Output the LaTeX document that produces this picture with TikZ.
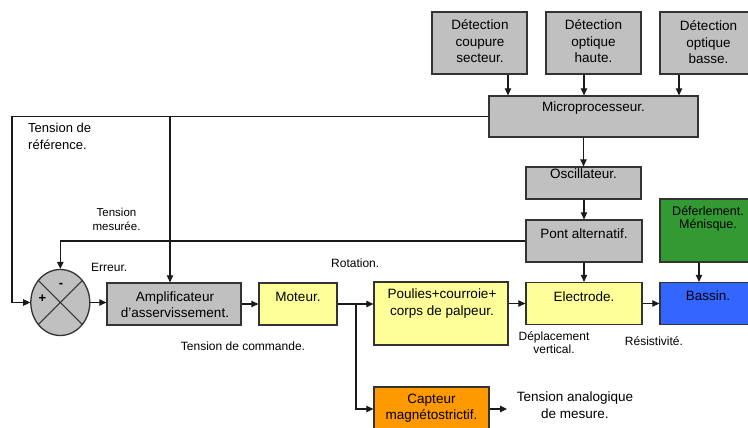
\documentclass[tikz,border=0pt]{standalone}
\usepackage{fontspec}
\setmainfont{Liberation Sans}
\usetikzlibrary{arrows.meta,shapes.geometric}

\definecolor{boxgray}{HTML}{C0C0C0}
\definecolor{boxyellow}{HTML}{FFFF99}
\definecolor{boxgreen}{HTML}{339933}
\definecolor{boxblue}{HTML}{3366FF}
\definecolor{boxorange}{HTML}{FF9900}
\definecolor{edge}{HTML}{333333}
\definecolor{wire}{HTML}{1A1A1A}

\begin{document}
\begin{tikzpicture}[x=1pt,y=-1pt,
  blk/.style={draw=edge, line width=1.3pt, inner sep=0pt},
  btxt/.style={font=\fontsize{13.5}{16.5}\selectfont, align=center, inner sep=0pt},
  lbl/.style={font=\fontsize{12}{13.5}\selectfont, align=center, inner sep=0pt},
  arr/.style={draw=wire, line width=1.1pt, -{Triangle[length=7pt,width=6.5pt]}},
  wireline/.style={draw=wire, line width=1.1pt}
]
\useasboundingbox (0,0) rectangle (748,428);

% ---- blocks ----
\node[blk, fill=boxgray, minimum width=95pt, minimum height=62pt] (det1) at (479.5,43) {};
\node[blk, fill=boxgray, minimum width=95pt, minimum height=62pt] (det2) at (593.5,43) {};
\node[blk, fill=boxgray, minimum width=95pt, minimum height=62pt] (det3) at (707.5,43) {};
\node[blk, fill=boxgray, minimum width=209pt, minimum height=41pt] (micro) at (593.5,116.5) {};
\node[blk, fill=boxgray, minimum width=115pt, minimum height=32pt] (osc) at (583.5,183) {};
\node[blk, fill=boxgray, minimum width=116pt, minimum height=42pt] (pont) at (584,241) {};
\node[blk, fill=boxgreen, minimum width=94pt, minimum height=63pt] (menisque) at (707,230.5) {};
\node[blk, fill=boxblue, minimum width=94pt, minimum height=42pt] (bassin) at (707,303.5) {};
\node[blk, fill=boxyellow, minimum width=116pt, minimum height=42pt] (elec) at (584,303.5) {};
\node[blk, fill=boxyellow, minimum width=134pt, minimum height=63pt] (poulies) at (441,313.5) {};
\node[blk, fill=boxorange, minimum width=115pt, minimum height=44pt] (capteur) at (431.5,409) {};
\node[blk, fill=boxyellow, minimum width=78pt, minimum height=42pt] (moteur) at (298,304) {};
\node[blk, fill=boxgray, minimum width=134pt, minimum height=42pt] (amp) at (174,304) {};
\node[blk, fill=boxgray, ellipse, minimum width=59pt, minimum height=66pt] (sum) at (60.3,302.5) {};
\draw[draw=edge, line width=1pt] (sum.45) -- (sum.225) (sum.135) -- (sum.315);
\node[font=\bfseries\fontsize{13}{13}\selectfont, inner sep=0pt] (plus) at (42.5,299) {+};
\node[font=\bfseries\fontsize{13}{13}\selectfont, inner sep=0pt] (minus) at (61,285) {-};

% ---- block texts ----
\node[btxt] (t-det1) at (480,41.5) {Détection\\coupure\\secteur.};
\node[btxt] (t-det2) at (593.5,41.5) {Détection\\optique\\haute.};
\node[btxt] (t-det3) at (708.5,42.5) {Détection\\optique\\basse.};
\node[btxt] (t-micro) at (593.5,108) {Microprocesseur.};
\node[btxt] (t-osc) at (583.5,174) {Oscillateur.};
\node[btxt] (t-pont) at (584,234) {Pont alternatif.};
\node[lbl, font=\fontsize{12.5}{13.5}\selectfont] (t-men) at (708,218.5) {Déferlement.\\Ménisque.};
\node[btxt] (t-bassin) at (708,296) {Bassin.};
\node[btxt] (t-elec) at (584,297) {Electrode.};
\node[btxt] (t-poulies) at (442,303.5) {Poulies+courroie+\\corps de palpeur.};
\node[btxt] (t-capteur) at (431.5,408) {Capteur\\magnétostrictif.};
\node[btxt] (t-moteur) at (298,297) {Moteur.};
\node[btxt] (t-amp) at (175,304.5) {Amplificateur\\d’asservissement.};

% ---- free labels ----
\node[lbl, font=\fontsize{13}{16.5}\selectfont, align=left, anchor=west] (l-ref) at (28,136.5) {Tension de\\référence.};
\node[lbl, font=\fontsize{11.5}{14}\selectfont] (l-mes) at (116.5,219) {Tension\\mesurée.};
\node[lbl, anchor=west] (l-err) at (91,267) {Erreur.};
\node[lbl, anchor=west] (l-rot) at (331,263) {Rotation.};
\node[lbl] (l-cmd) at (243,346) {Tension de commande.};
\node[lbl] (l-dep) at (554,342.5) {Déplacement\\vertical.};
\node[lbl] (l-res) at (654,341) {Résistivité.};
\node[lbl, font=\fontsize{13.5}{17}\selectfont] (l-ana) at (575,405.5) {Tension analogique\\de mesure.};

% ---- connectors ----
\draw[arr] ([xshift=28.5pt]det1.south) -- ([xshift=28.5pt]det1.south |- micro.north);
\draw[arr] ([xshift=-9.5pt]det2.south) -- ([xshift=-9.5pt]det2.south |- micro.north);
\draw[arr] ([xshift=-28.5pt]det3.south) -- ([xshift=-28.5pt]det3.south |- micro.north);
\draw[arr] (micro.south -| osc.north) -- (osc.north);
\draw[arr] (osc.south -| pont.north) -- (pont.north);
\draw[arr] (pont.south) -- (elec.north);
\draw[arr] ([xshift=-8pt]menisque.south) -- ([xshift=-8pt]menisque.south |- bassin.north);
\draw[arr] (elec.east) -- (bassin.west);
\draw[arr] (poulies.east |- elec.west) -- (elec.west);

% reference voltage loop into the comparator
\coordinate (refcorner) at (12,302.5);
\draw[arr] (micro.west) -- (micro.west -| refcorner) -- (refcorner) -- (sum.west);
% microprocessor line down to the amplifier
\coordinate (ampin) at ([xshift=-4pt]amp.north);
\draw[arr] (ampin |- micro.west) -- (ampin);
% measured voltage feedback
\draw[arr] (pont.west) -| (sum.north);

\draw[arr] (sum.east) -- (amp.west |- sum.east);
\draw[arr] (amp.east) -- (moteur.west);
\draw[arr] (moteur.east) -- (moteur.east -| poulies.west);
\coordinate (branch) at (356,304);
\draw[arr] (moteur.east -| branch) |- (capteur.west);
\coordinate (anaout) at (507,409);
\draw[arr] (capteur.east) -- (anaout);
\end{tikzpicture}
\end{document}
